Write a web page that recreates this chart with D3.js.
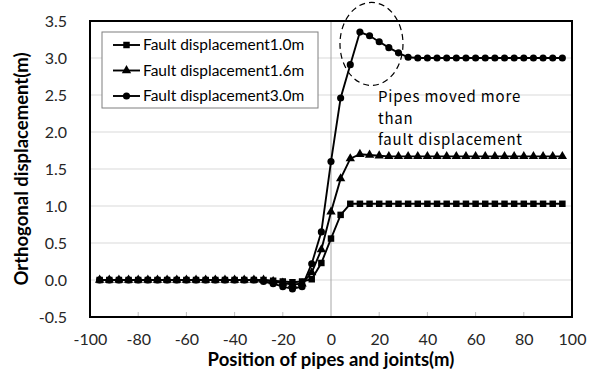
<!DOCTYPE html>
<html>
<head>
<meta charset="utf-8">
<script src="https://cdn.jsdelivr.net/npm/d3@7/dist/d3.min.js"></script>
<style>
html,body{margin:0;padding:0;background:#fff;}
svg{display:block;}
</style>
</head>
<body>
<svg id="chart" width="597" height="374"></svg>
<script>
const positions = [-96,-92,-88,-84,-80,-76,-72,-68,-64,-60,-56,-52,-48,-44,-40,-36,-32,-28,-24,-20,-16,-12,-8,-4,0,4,8,12,16,20,24,28,32,36,40,44,48,52,56,60,64,68,72,76,80,84,88,92,96];

const disp10 = [0,0,0,0,0,0,0,0,0,0,0,0,0,0,0,0,0,0,
  -0.01,-0.02,-0.03,-0.02,0.01,0.23,0.56,0.88,1.03,
  1.03,1.03,1.03,1.03,1.03,1.03,1.03,1.03,1.03,1.03,1.03,1.03,1.03,1.03,1.03,1.03,1.03,1.03,1.03,1.03,1.03,1.03];

const disp16 = [0,0,0,0,0,0,0,0,0,0,0,0,0,0,0,0,0,0,
  -0.02,-0.04,-0.06,-0.05,0.10,0.41,0.92,1.37,1.64,1.70,1.69,1.68,
  1.67,1.67,1.67,1.67,1.67,1.67,1.67,1.67,1.67,1.67,1.67,1.67,1.67,1.67,1.67,1.67,1.67,1.67,1.67];

const disp30 = [0,0,0,0,0,0,0,0,0,0,0,0,0,0,0,0,0,
  -0.02,-0.05,-0.09,-0.12,-0.09,0.22,0.65,1.60,2.46,2.91,3.35,3.30,3.22,3.14,3.07,3.01,3.00,
  3.00,3.00,3.00,3.00,3.00,3.00,3.00,3.00,3.00,3.00,3.00,3.00,3.00,3.00,3.00];

const seriesNames = ["Fault displacement1.0m","Fault displacement1.6m","Fault displacement3.0m"];
const seriesMarkers = ["square","triangle","circle"];
const xTicks = [-100,-80,-60,-40,-20,0,20,40,60,80,100];
const yTicks = [-0.5,0,0.5,1.0,1.5,2.0,2.5,3.0,3.5];
const xTitle = "Position of pipes and joints(m)";
const yTitle = "Orthogonal displacement(m)";
const noteLines = ["Pipes moved more","than","fault displacement"];

const series = [disp10, disp16, disp30].map((vals,i)=>({
  name: seriesNames[i], marker: seriesMarkers[i],
  points: positions.map((p,j)=>({x:p, y:vals[j]}))
}));

const svg = d3.select("#chart");
const L = 90, R = 572, T = 21, B = 317;
const x = d3.scaleLinear().domain([-100,100]).range([L,R]);
const y = d3.scaleLinear().domain([-0.5,3.5]).range([B,T]);
const font = "Lato, 'Open Sans', sans-serif";

// gridlines
svg.append("g").selectAll("line").data(yTicks).join("line")
  .attr("x1",L).attr("x2",R).attr("y1",d=>y(d)).attr("y2",d=>y(d))
  .attr("stroke","#d9d9d9").attr("stroke-width",1.2);

// vertical axis line at x=0
svg.append("line").attr("x1",x(0)).attr("x2",x(0)).attr("y1",T).attr("y2",B)
  .attr("stroke","#a6a6a6").attr("stroke-width",1);

// bottom ticks inside
svg.append("g").selectAll("line").data(xTicks.filter(d=>d!==0 && d!==-100 && d!==100)).join("line")
  .attr("x1",d=>x(d)).attr("x2",d=>x(d)).attr("y1",B).attr("y2",B-5)
  .attr("stroke","#bfbfbf").attr("stroke-width",1);

// x axis labels
const xAxis = d3.axisBottom(x).tickValues(xTicks).tickSize(0).tickPadding(17).tickFormat(d=>String(d));
const gx = svg.append("g").attr("transform",`translate(0,${B})`).call(xAxis);
gx.select(".domain").remove();
gx.selectAll("text").attr("font-family",font).attr("font-size",16).attr("fill","#262626");

// y axis labels
const yAxis = d3.axisLeft(y).tickValues(yTicks).tickSize(0).tickPadding(23).tickFormat(d=>d.toFixed(1));
const gy = svg.append("g").attr("transform",`translate(${L},0)`).call(yAxis);
gy.select(".domain").remove();
gy.selectAll("text").attr("font-family",font).attr("font-size",16).attr("fill","#262626");

// lines
const line = d3.line().x(d=>x(d.x)).y(d=>y(d.y));
const sym = {square:d3.symbolSquare, triangle:d3.symbolTriangle, circle:d3.symbolCircle};
const symSize = {square:42, triangle:38, circle:40};

series.forEach(s=>{
  svg.append("path").datum(s.points).attr("d",line)
    .attr("fill","none").attr("stroke","#000").attr("stroke-width",1.9);
  svg.append("g").selectAll("path").data(s.points).join("path")
    .attr("transform",d=>`translate(${x(d.x)},${y(d.y)})`)
    .attr("d",d3.symbol().type(sym[s.marker]).size(symSize[s.marker]))
    .attr("fill","#000");
});

// plot border
svg.append("rect").attr("x",L).attr("y",T).attr("width",R-L).attr("height",B-T)
  .attr("fill","none").attr("stroke","#000").attr("stroke-width",2);

// legend
const lg = svg.append("g");
lg.append("rect").attr("x",102).attr("y",32).attr("width",216).attr("height",76)
  .attr("fill","#fff").attr("stroke","#7f7f7f").attr("stroke-width",1);
series.forEach((s,i)=>{
  const ly = 45 + i*25.5;
  lg.append("line").attr("x1",113).attr("x2",140).attr("y1",ly).attr("y2",ly)
    .attr("stroke","#000").attr("stroke-width",1.9);
  lg.append("path").attr("transform",`translate(126.5,${ly})`)
    .attr("d",d3.symbol().type(sym[s.marker]).size(symSize[s.marker])).attr("fill","#000");
  lg.append("text").attr("x",143).attr("y",ly).attr("dy","0.35em")
    .attr("font-family",font).attr("font-size",15.5).attr("fill","#000").text(s.name);
});

// annotation ellipse
svg.append("ellipse").attr("cx",x(16.8)).attr("cy",y(3.19)).attr("rx",31.5).attr("ry",41.5)
  .attr("fill","none").attr("stroke","#000").attr("stroke-width",1.2).attr("stroke-dasharray","6,4");

// annotation text
svg.append("g").selectAll("text").data(noteLines).join("text")
  .attr("x",378).attr("y",(d,i)=>97+i*21.3).attr("dy","0.35em")
  .attr("font-family","'Noto Sans CJK JP', sans-serif").attr("font-size",15)
  .attr("letter-spacing",0.8).attr("fill","#000")
  .text(d=>d);

// axis titles
svg.append("text").attr("x",x(0)).attr("y",360).attr("dy","0.35em").attr("text-anchor","middle")
  .attr("font-family",font).attr("font-weight","bold").attr("font-size",18.5).attr("fill","#000").text(xTitle);
svg.append("text").attr("transform",`translate(22,${(T+B)/2}) rotate(-90)`).attr("dy","0.35em").attr("text-anchor","middle")
  .attr("font-family",font).attr("font-weight","bold").attr("font-size",18.5).attr("fill","#000").text(yTitle);
</script>
</body>
</html>
